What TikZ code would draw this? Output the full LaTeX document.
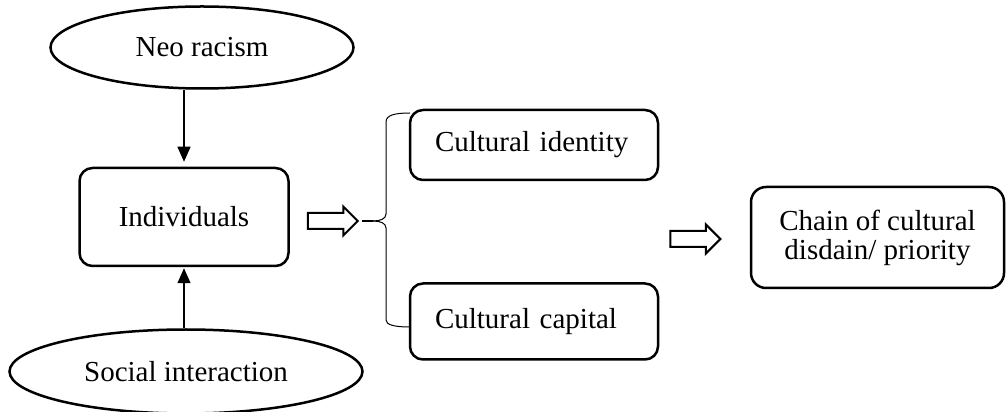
\documentclass[tikz,border=0pt]{standalone}
\usepackage{fontspec}
\setmainfont{Liberation Serif}
\usetikzlibrary{shapes.geometric}
\usetikzlibrary{shapes.arrows}
\usetikzlibrary{arrows.meta}
\usetikzlibrary{positioning}

\begin{document}
\begin{tikzpicture}[x=1pt,y=1pt,
  font=\fontsize{29}{29}\selectfont,
  card/.style={draw,line width=2.5pt,rounded corners=13pt,inner sep=0pt},
  oval/.style={draw,ellipse,line width=2.5pt,inner sep=0pt},
  hollow/.style={draw,single arrow,line width=2pt,inner sep=7pt,
    single arrow head extend=6.5pt,minimum height=50pt},
  link/.style={line width=1.3pt,-{Triangle[width=13pt,length=15pt]}}]
\useasboundingbox (0,0) rectangle (1006,412);

\node [card,minimum width=209pt,minimum height=98pt] (indiv) at (184,195) {Individuals};
\node [oval,minimum width=303pt,minimum height=82pt,above=77pt,at=(indiv.north),xshift=18pt] (neo) {Neo racism};
\node [oval,minimum width=353pt,minimum height=84pt,below=61pt,at=(indiv.south),xshift=2pt] (social) {Social interaction};

\node [card,text width=198pt,inner xsep=25pt,minimum height=70pt,align=left] (ident) at (534,267) {Cultural identity};
\node [card,text width=198pt,inner xsep=25pt,minimum height=76pt,align=left,below=101pt,at=(ident.south)] (capital) {Cultural capital};
\node [card,align=center,minimum width=253pt,minimum height=101pt,rounded corners=15pt] (chain) at (877.5,174.5) {Chain of cultural\\disdain/ priority};

\node [hollow,right=17pt,at=(indiv.east),yshift=-4pt] (push) {};
\node [hollow,left=28pt,at=(chain.west),yshift=-1.5pt] (lead) {};

\draw [link,shorten >=5pt] (neo.south -| indiv) -- (indiv.north);
\draw [link,shorten >=1pt] (social.north -| indiv) -- (indiv.south);

% brace in front of the two outcomes
\coordinate (tail) at (362,191);
\coordinate (fork) at (373,191);
\draw [line width=1.3pt] (tail) -- (fork);
\draw [line width=1pt] (fork) .. controls (380,191) and (386,193) .. (386,198) -- (386,290)
  .. controls (386,297) and (395,299) .. (410,299);
\draw [line width=1pt] (fork) .. controls (380,191) and (386,189) .. (386,184) -- (386,92)
  .. controls (386,87) and (395,85) .. (410,85);
\end{tikzpicture}
\end{document}
